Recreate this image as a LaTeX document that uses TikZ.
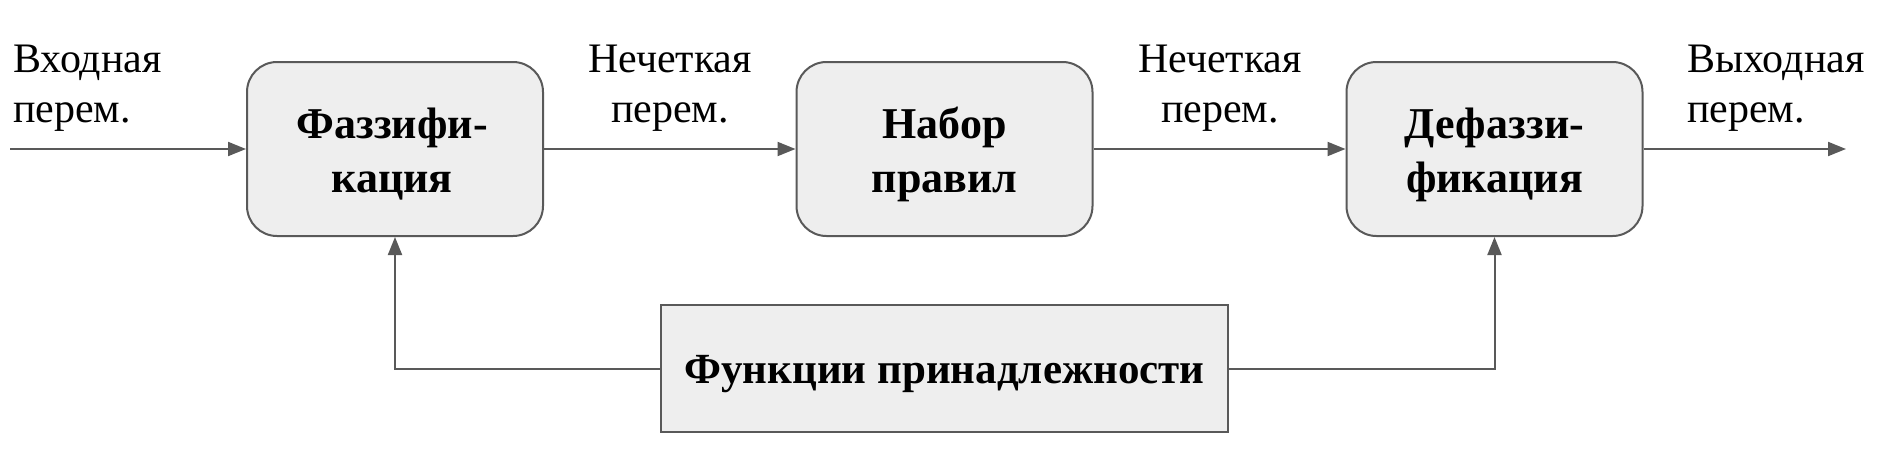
\documentclass[tikz,border=0pt]{standalone}
\usepackage{fontspec}
\setmainfont{Liberation Serif}
\usetikzlibrary{arrows.meta}
\definecolor{edgegray}{HTML}{595959}
\definecolor{boxfill}{HTML}{EEEEEE}
\begin{document}
\begin{tikzpicture}[x=1pt,y=-1pt,
  procbox/.style={draw=edgegray, line width=2pt, fill=boxfill, rounded corners=30pt,
    minimum width=296pt, minimum height=174pt, inner sep=0pt},
  funcbox/.style={draw=edgegray, line width=2pt, fill=boxfill,
    minimum width=567pt, minimum height=127pt, inner sep=0pt},
  boldtext/.style={font=\fontsize{44}{54}\selectfont\bfseries, align=center, anchor=base, inner sep=0pt},
  labeltext/.style={font=\fontsize{42}{50}\selectfont, inner sep=0pt, anchor=base},
  flow/.style={draw=edgegray, line width=2pt, -{Triangle[length=18pt,width=14pt]}}]
\useasboundingbox (0,0) rectangle (1880,463);

\node[procbox] (fuzz) at (395,149) {};
\node[procbox] (rules) at (944.5,149) {};
\node[procbox] (defuzz) at (1494.5,149) {};
\node[funcbox] (mf) at (944.5,368.5) {};

\node[boldtext] (fuzzt) at (392,192) {Фаззифи-\\кация};
\node[boldtext] (rulest) at (944.5,192) {Набор\\правил};
\node[boldtext] (defuzzt) at (1494.5,192) {Дефаззи-\\фикация};
\node[boldtext, font=\fontsize{43}{54}\selectfont\bfseries] (mft) at (944.5,383) {Функции принадлежности};

\node[labeltext, anchor=base west, align=left] (inl) at (13,122) {Входная\\перем.};
\node[labeltext, align=center] (mid1) at (670,122) {Нечеткая\\перем.};
\node[labeltext, align=center] (mid2) at (1220,122) {Нечеткая\\перем.};
\node[labeltext, anchor=base west, align=left] (outl) at (1687,122) {Выходная\\перем.};

\coordinate (instart) at (10,149);
\coordinate (outend) at (1846,149);

\draw[flow] (instart) -- (fuzz.west);
\draw[flow] (fuzz.east) -- (rules.west);
\draw[flow] (rules.east) -- (defuzz.west);
\draw[flow] (defuzz.east) -- (outend);
\draw[flow] (mf.west) -| (fuzz.south);
\draw[flow] (mf.east) -| (defuzz.south);
\end{tikzpicture}
\end{document}
